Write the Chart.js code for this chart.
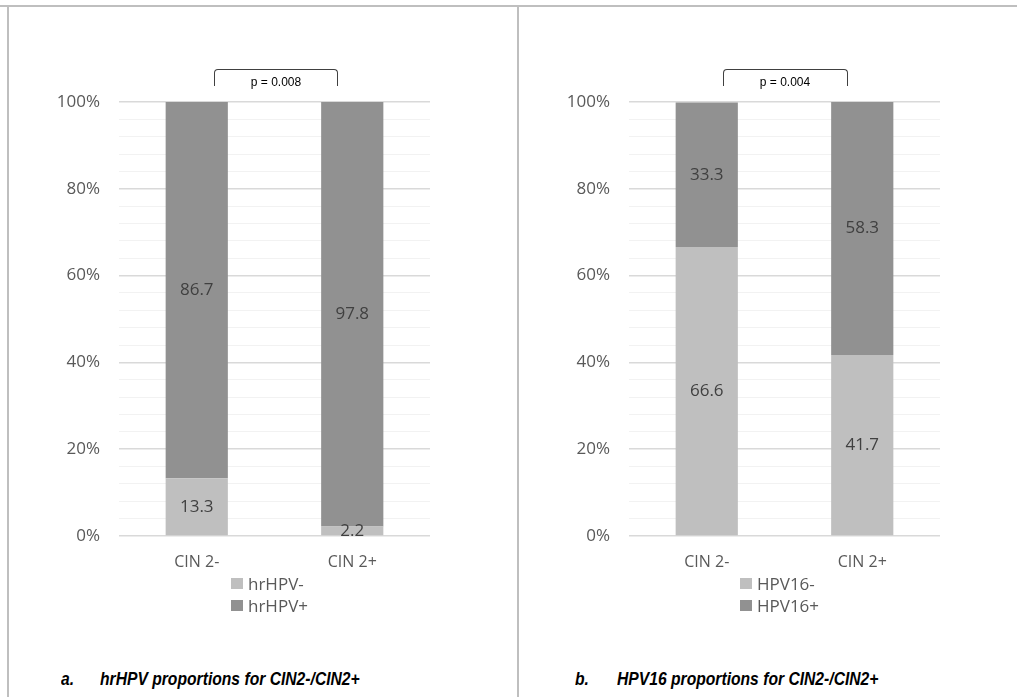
<!DOCTYPE html>
<html>
<head>
<meta charset="utf-8">
<script src="https://cdn.jsdelivr.net/npm/chart.js@4.4.1/dist/chart.umd.min.js"></script>
<style>
  html, body { margin: 0; padding: 0; background: #fff; width: 1017px; height: 697px; overflow: hidden; position: relative; font-family: "Open Sans", Lato, sans-serif; }
  .abs { position: absolute; }
  .frame { background: #bfbfbf; position: absolute; }
  .bracket { position: absolute; border: 1px solid #404040; border-bottom: none; border-radius: 4px 4px 0 0; height: 16px; }
  .ptext { position: absolute; font-family: "Liberation Sans", Arial, sans-serif; font-size: 12px; color: #000; text-align: center; width: 120px; }
  .leg { position: absolute; font-size: 17px; color: #595959; }
  .leg .row { display: flex; align-items: center; height: 22px; white-space: nowrap; }
  .leg .sw { width: 12px; height: 11px; margin-right: 5px; flex: none; }
  .cap { position: absolute; font-family: "Liberation Sans", sans-serif; font-weight: bold; font-style: italic; font-size: 18px; color: #000; transform: scaleX(0.87); transform-origin: left center; white-space: nowrap; }
</style>
</head>
<body>
<div class="frame" style="left:0;top:5px;width:1017px;height:2px;"></div>
<div class="frame" style="left:7px;top:5px;width:2px;height:692px;"></div>
<div class="frame" style="left:517px;top:5px;width:2px;height:692px;"></div>

<canvas id="c1" class="abs" style="left:0;top:0;"></canvas>
<canvas id="c2" class="abs" style="left:510px;top:0;"></canvas>

<div class="bracket" style="left:214px;top:69px;width:122px;"></div>
<div class="ptext" style="left:216px;top:75px;">p = 0.008</div>
<div class="bracket" style="left:723px;top:69px;width:123px;"></div>
<div class="ptext" style="left:725px;top:75px;">p = 0.004</div>

<div id="leg1" class="leg" style="left:231px;top:572px;"></div>
<div id="leg2" class="leg" style="left:740px;top:572px;"></div>

<div class="cap" style="left:61px;top:669px;">a.</div>
<div class="cap" style="left:100px;top:669px;">hrHPV proportions for CIN2-/CIN2+</div>
<div class="cap" style="left:575px;top:669px;">b.</div>
<div class="cap" style="left:617px;top:669px;">HPV16 proportions for CIN2-/CIN2+</div>

<script>
// ---- Data ----
const categories = ["CIN 2-", "CIN 2+"];
const seriesA = ["hrHPV-", "hrHPV+"];
const hrHPVneg = [13.3, 2.2];
const hrHPVpos = [86.7, 97.8];
const seriesB = ["HPV16-", "HPV16+"];
const hpv16neg = [66.6, 41.7];
const hpv16pos = [33.3, 58.3];
const yTickLabels = ["0%", "20%", "40%", "60%", "80%", "100%"];

const LIGHT = "#bfbfbf";
const DARK = "#919191";

const dataLabelPlugin = {
  id: "dataLabels",
  afterDatasetsDraw(chart) {
    const ctx = chart.ctx;
    ctx.save();
    ctx.font = "17px 'Open Sans'";
    ctx.fillStyle = "#404040";
    ctx.textAlign = "center";
    ctx.textBaseline = "middle";
    chart.data.datasets.forEach((ds, i) => {
      const meta = chart.getDatasetMeta(i);
      meta.data.forEach((el, j) => {
        const p = el.getProps(["x", "y", "base"], true);
        ctx.fillText(ds.data[j].toFixed(1), p.x, (p.y + p.base) / 2);
      });
    });
    ctx.restore();
  }
};

function makeChart(id, names, neg, pos) {
  const canvas = document.getElementById(id);
  canvas.width = 517; canvas.height = 580;
  canvas.style.width = "517px"; canvas.style.height = "580px";
  return new Chart(canvas, {
    type: "bar",
    data: {
      labels: categories,
      datasets: [
        { label: names[0], data: neg, backgroundColor: LIGHT, barPercentage: 0.4, categoryPercentage: 1 },
        { label: names[1], data: pos, backgroundColor: DARK, barPercentage: 0.4, categoryPercentage: 1 }
      ]
    },
    options: {
      responsive: false,
      devicePixelRatio: 1,
      animation: false,
      layout: { padding: { top: 102, right: 87, left: 0, bottom: 0 } },
      plugins: { legend: { display: false }, tooltip: { enabled: false } },
      scales: {
        x: {
          stacked: true,
          grid: { display: false, drawTicks: false },
          border: { display: false },
          ticks: { padding: 17, color: "#595959", font: { family: "Open Sans", size: 16 } },
          afterFit(s) { s.height = 44; }
        },
        y: {
          stacked: true,
          min: 0, max: 100,
          ticks: {
            stepSize: 4, autoSkip: false, padding: 19, color: "#595959",
            font: { family: "Open Sans", size: 17 },
            callback: (v) => (v % 20 === 0 ? yTickLabels[v / 20] : "")
          },
          grid: {
            drawTicks: false,
            color: (c) => (c.tick && c.tick.value % 20 === 0 ? "#d9d9d9" : "#f2f2f2"),
            lineWidth: (c) => (c.tick && c.tick.value % 20 === 0 ? 1.5 : 1)
          },
          border: { display: false },
          afterFit(s) { s.width = 119; }
        }
      }
    },
    plugins: [dataLabelPlugin]
  });
}

makeChart("c1", seriesA, hrHPVneg, hrHPVpos);
makeChart("c2", seriesB, hpv16neg, hpv16pos);

function legend(id, names) {
  const el = document.getElementById(id);
  el.innerHTML = names.map((n, i) =>
    `<div class="row"><span class="sw" style="background:${i === 0 ? LIGHT : DARK}"></span>${n}</div>`
  ).join("");
}
legend("leg1", seriesA);
legend("leg2", seriesB);
</script>
</body>
</html>
